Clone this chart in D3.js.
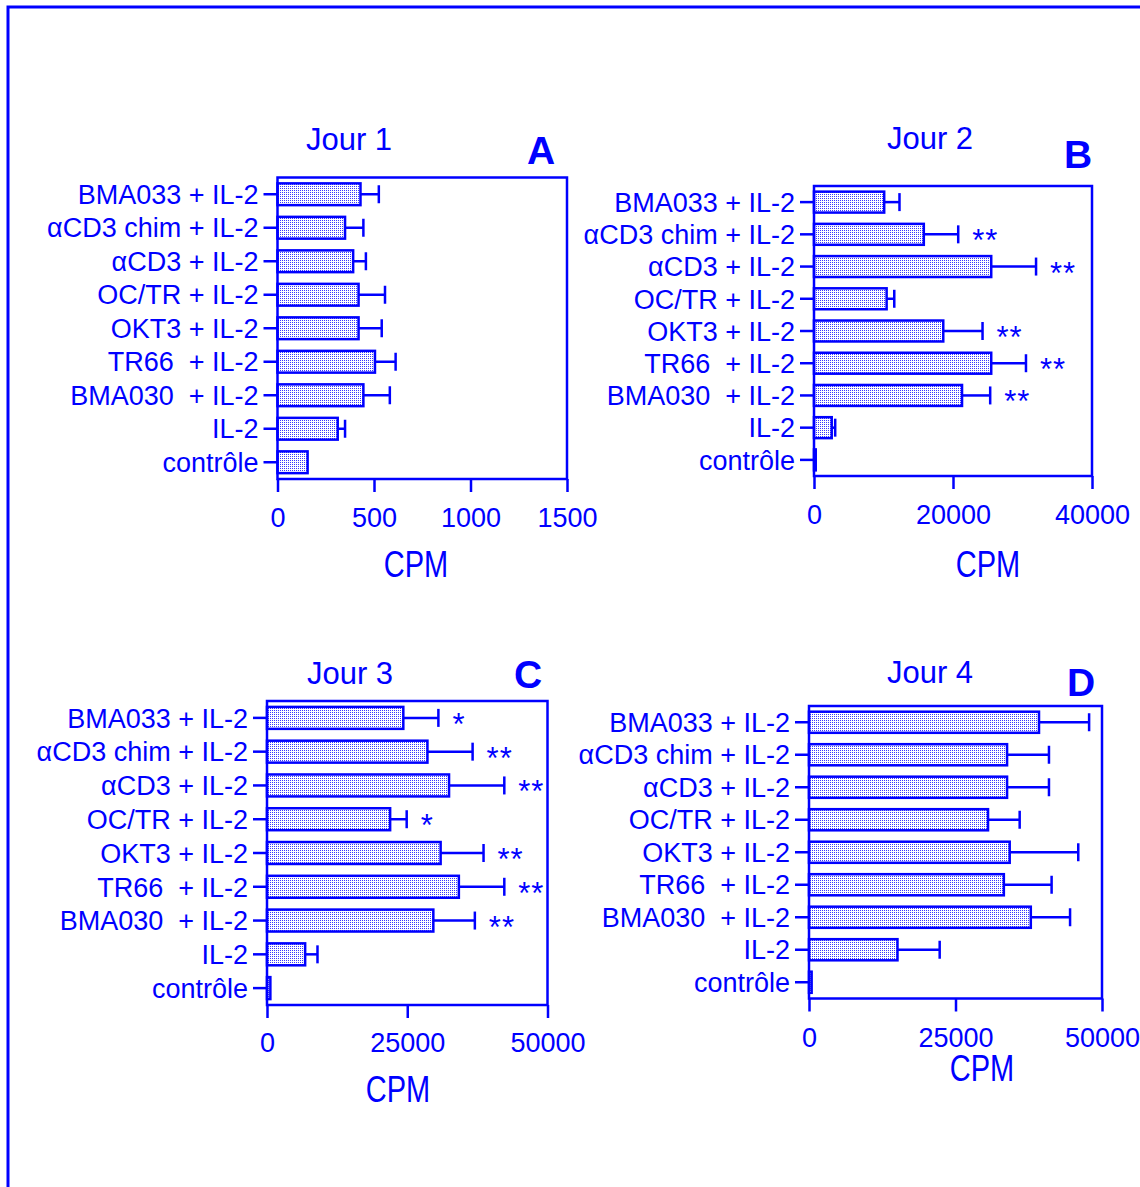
<!DOCTYPE html>
<html>
<head>
<meta charset="utf-8">
<script src="https://cdn.jsdelivr.net/npm/d3@7"></script>
<style>
    body { margin: 0; background: #ffffff; }
    svg text { font-family: "Liberation Sans", Arial, Helvetica, sans-serif; fill: #0000ff; }
</style>
</head>
<body>
<div id="chart"></div>
<script>
    // categories, top to bottom
    var categories = ["BMA033 + IL-2", "\u03b1CD3 chim + IL-2", "\u03b1CD3 + IL-2", "OC/TR + IL-2",
        "OKT3 + IL-2", "TR66  + IL-2", "BMA030  + IL-2", "IL-2", "contr\u00f4le"];

    // CPM means and error (SEM) per day
    var jour1Values = [430, 350, 392, 420, 420, 505, 445, 312, 156];
    var jour1Errors = [95, 95, 66, 137, 120, 107, 137, 38, 0];
    var jour2Values = [10100, 15800, 25500, 10450, 18600, 25500, 21300, 2550, 250];
    var jour2Errors = [2200, 4950, 6450, 1100, 5650, 5000, 4050, 500, 0];
    var jour3Values = [24300, 28600, 32450, 21950, 30950, 34200, 29650, 6800, 600];
    var jour3Errors = [6250, 8050, 9850, 2950, 7650, 8100, 7400, 2200, 0];
    var jour4Values = [39250, 33800, 33800, 30550, 34250, 33250, 37850, 15100, 450];
    var jour4Errors = [8550, 7150, 7150, 5400, 11700, 8150, 6700, 7200, 0];

    // significance marks
    var jour2Stars = ["", "**", "**", "", "**", "**", "**", "", ""];
    var jour3Stars = ["*", "**", "**", "*", "**", "**", "**", "", ""];

    // axis ticks
    var jour1Ticks = [0, 500, 1000, 1500];
    var jour2Ticks = [0, 20000, 40000];
    var jour3Ticks = [0, 25000, 50000];
    var jour4Ticks = [0, 25000, 50000];

    function init() {
        var w = 1140;
        var h = 1187;
        var blue = "#0000ff";

        // panel layout (plot box, title and label positions)
        var panels = [
            { title: "Jour 1", letter: "A", values: jour1Values, errors: jour1Errors, stars: null, ticks: jour1Ticks,
              x0: 277.5, x1: 567, y0: 177.5, y1: 479, titleX: 349, titleY: 150, letterX: 541, letterY: 164,
              tickY: 527, cpmX: 416, cpmY: 577 },
            { title: "Jour 2", letter: "B", values: jour2Values, errors: jour2Errors, stars: jour2Stars, ticks: jour2Ticks,
              x0: 814, x1: 1092, y0: 186, y1: 476, titleX: 930, titleY: 149, letterX: 1078, letterY: 168,
              tickY: 524, cpmX: 988, cpmY: 577 },
            { title: "Jour 3", letter: "C", values: jour3Values, errors: jour3Errors, stars: jour3Stars, ticks: jour3Ticks,
              x0: 267, x1: 547.5, y0: 701, y1: 1005, titleX: 350, titleY: 684, letterX: 528, letterY: 688,
              tickY: 1052, cpmX: 398, cpmY: 1102 },
            { title: "Jour 4", letter: "D", values: jour4Values, errors: jour4Errors, stars: null, ticks: jour4Ticks,
              x0: 809, x1: 1102, y0: 706, y1: 998.5, titleX: 930, titleY: 683, letterX: 1081, letterY: 696,
              tickY: 1047, cpmX: 982, cpmY: 1081 }
        ];

        var svg = d3.select("#chart")
            .append("svg")
            .attr("width", w)
            .attr("height", h);

        // stippled bar fill
        var pattern = svg.append("defs").append("pattern")
            .attr("id", "dots")
            .attr("width", 2)
            .attr("height", 2)
            .attr("patternUnits", "userSpaceOnUse");
        pattern.append("rect").attr("width", 2).attr("height", 2).attr("fill", "#ffffff");
        pattern.append("rect").attr("width", 1).attr("height", 1).attr("fill", "#3a3aff");

        // outer frame (top and left edges)
        svg.append("path")
            .attr("d", "M8," + h + "V7H" + w)
            .attr("fill", "none")
            .attr("stroke", blue)
            .attr("stroke-width", 3);

        panels.forEach(function(p) { drawPanel(svg, p); });

        function drawPanel(svg, p) {
            var g = svg.append("g");
            var rows = categories.map(function(c, i) {
                return { cat: c, value: p.values[i], err: p.errors[i], star: p.stars ? p.stars[i] : "" };
            });

            var xScale = d3.scaleLinear()
                .domain([p.ticks[0], p.ticks[p.ticks.length - 1]])
                .range([p.x0, p.x1]);

            var yScale = d3.scaleBand()
                .domain(categories)
                .range([p.y0, p.y1])
                .paddingInner(0.35)
                .paddingOuter(0.175);

            var bw = yScale.bandwidth();

            // bars
            g.selectAll("rect.bar")
                .data(rows)
                .enter()
                .append("rect")
                .attr("class", "bar")
                .attr("x", xScale(0))
                .attr("y", function(d) { return yScale(d.cat); })
                .attr("width", function(d) { return xScale(d.value) - xScale(0); })
                .attr("height", bw)
                .attr("fill", "url(#dots)")
                .attr("stroke", blue)
                .attr("stroke-width", 2.5);

            // error bars
            var withErr = rows.filter(function(d) { return d.err > 0; });
            g.selectAll("line.err")
                .data(withErr)
                .enter()
                .append("line")
                .attr("class", "err")
                .attr("x1", function(d) { return xScale(d.value); })
                .attr("x2", function(d) { return xScale(d.value + d.err); })
                .attr("y1", function(d) { return yScale(d.cat) + bw / 2; })
                .attr("y2", function(d) { return yScale(d.cat) + bw / 2; })
                .attr("stroke", blue)
                .attr("stroke-width", 2.5);
            g.selectAll("line.cap")
                .data(withErr)
                .enter()
                .append("line")
                .attr("class", "cap")
                .attr("x1", function(d) { return xScale(d.value + d.err); })
                .attr("x2", function(d) { return xScale(d.value + d.err); })
                .attr("y1", function(d) { return yScale(d.cat) + bw / 2 - 9; })
                .attr("y2", function(d) { return yScale(d.cat) + bw / 2 + 9; })
                .attr("stroke", blue)
                .attr("stroke-width", 2.5);

            // significance stars
            g.selectAll("text.star")
                .data(rows.filter(function(d) { return d.star; }))
                .enter()
                .append("text")
                .attr("class", "star")
                .attr("x", function(d) { return xScale(d.value + d.err) + 14; })
                .attr("y", function(d) { return yScale(d.cat) + bw / 2 + 17; })
                .attr("font-size", 31)
                .attr("letter-spacing", 1)
                .text(function(d) { return d.star; });

            // plot box
            g.append("rect")
                .attr("x", p.x0)
                .attr("y", p.y0)
                .attr("width", p.x1 - p.x0)
                .attr("height", p.y1 - p.y0)
                .attr("fill", "none")
                .attr("stroke", blue)
                .attr("stroke-width", 2.5);

            // x axis
            var xAxis = d3.axisBottom(xScale)
                .tickValues(p.ticks)
                .tickSize(13)
                .tickFormat(d3.format("d"));
            var gx = g.append("g")
                .attr("transform", "translate(0," + p.y1 + ")")
                .call(xAxis);
            gx.select(".domain").remove();
            gx.selectAll(".tick line").attr("stroke", blue).attr("stroke-width", 2.5);
            gx.selectAll(".tick text")
                .attr("y", p.tickY - p.y1)
                .attr("dy", 0)
                .attr("font-size", 27)
                .attr("fill", blue);

            // y axis
            var yAxis = d3.axisLeft(yScale).tickSize(14).tickPadding(5);
            var gy = g.append("g")
                .attr("transform", "translate(" + p.x0 + ",0)")
                .call(yAxis);
            gy.select(".domain").remove();
            gy.selectAll(".tick line").attr("stroke", blue).attr("stroke-width", 2.5);
            gy.selectAll(".tick text")
                .attr("dy", "0.36em")
                .attr("font-size", 27)
                .attr("fill", blue)
                .style("white-space", "pre");

            // title, panel letter, axis label
            g.append("text")
                .attr("x", p.titleX)
                .attr("y", p.titleY)
                .attr("text-anchor", "middle")
                .attr("font-size", 31)
                .text(p.title);
            g.append("text")
                .attr("x", p.letterX)
                .attr("y", p.letterY)
                .attr("text-anchor", "middle")
                .attr("font-size", 39)
                .attr("font-weight", "bold")
                .text(p.letter);
            g.append("text")
                .attr("transform", "translate(" + p.cpmX + "," + p.cpmY + ") scale(1,1.25)")
                .attr("text-anchor", "middle")
                .attr("font-size", 29)
                .text("CPM");
        }
    }

    init();
</script>
</body>
</html>
